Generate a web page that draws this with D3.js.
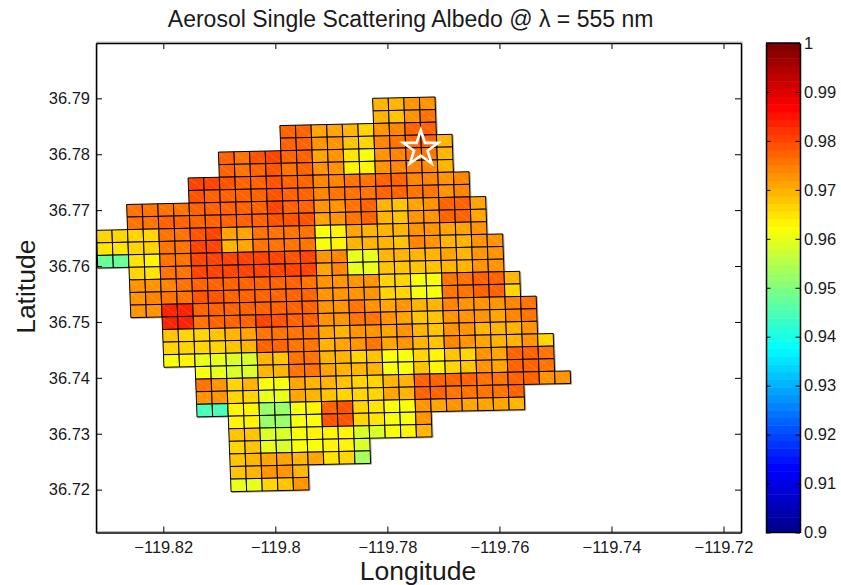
<!DOCTYPE html>
<html>
<head>
<meta charset="utf-8">
<script src="https://cdn.jsdelivr.net/npm/d3@7"></script>
<style>
  body { margin: 0; background: #fff; }
  text { font-family: "Liberation Sans", Arial, sans-serif; fill: #1a1a1a; }
  .axis path, .axis line { stroke: #000; }
  .axis path { stroke-width: 1.5; }
  .axis line { stroke-width: 1; }
  .axis text { font-size: 16.5px; }
</style>
</head>
<body>
<div id="chart"></div>
<script>
// first column of each grid row, top row first
const rowStart = [18, 18, 12, 12, 8, 8, 6, 6, 2, 2, 0, 0, 0, 2, 2, 2, 2, 4, 4, 4, 4, 6, 6, 6, 6, 8, 8, 8, 8, 8, 8];

// single scattering albedo per grid cell
const rowValues = [
  [.970, .970, .972, .973],
  [.969, .968, .972, .975],
  [.977, .977, .971, .971, .969, .966, .973, .974, .977, .977],
  [.977, .977, .973, .973, .968, .967, .974, .975, .977, .977, .970],
  [.977, .975, .979, .980, .977, .977, .971, .973, .965, .962, .972, .974, .975, .975, .969],
  [.977, .975, .978, .979, .976, .977, .972, .973, .964, .964, .972, .974, .974, .974, .969],
  [.980, .980, .979, .978, .978, .979, .977, .977, .974, .974, .976, .976, .977, .977, .974, .974, .973, .974],
  [.979, .978, .978, .977, .978, .979, .977, .977, .974, .975, .975, .976, .977, .977, .975, .975, .972, .974],
  [.975, .975, .976, .976, .978, .978, .977, .977, .978, .980, .977, .978, .972, .973, .976, .977, .969, .968, .971, .972, .977, .978, .971],
  [.975, .975, .977, .977, .977, .977, .977, .977, .978, .979, .979, .979, .971, .973, .975, .977, .970, .968, .972, .973, .977, .978, .971],
  [.967, .967, .967, .966, .975, .976, .979, .980, .971, .971, .975, .975, .975, .975, .962, .963, .971, .970, .969, .969, .972, .972, .971, .971, .973],
  [.965, .965, .967, .966, .976, .976, .980, .980, .970, .971, .975, .975, .975, .975, .962, .964, .970, .969, .969, .968, .974, .972, .970, .969, .972, .973],
  [.948, .948, .965, .963, .976, .976, .980, .980, .981, .981, .981, .980, .979, .980, .972, .974, .960, .960, .970, .970, .970, .970, .971, .970, .973, .973],
  [.966, .965, .976, .976, .980, .980, .981, .980, .980, .980, .980, .981, .971, .974, .960, .960, .968, .968, .968, .968, .970, .970, .973, .973],
  [.972, .973, .974, .975, .977, .977, .977, .977, .977, .977, .977, .976, .973, .973, .972, .972, .967, .966, .962, .962, .975, .975, .977, .977, .969],
  [.973, .974, .976, .976, .979, .979, .977, .977, .977, .977, .977, .977, .973, .973, .973, .973, .967, .966, .962, .962, .975, .975, .977, .977, .967],
  [.972, .972, .983, .983, .977, .977, .977, .977, .977, .978, .978, .978, .972, .972, .975, .973, .971, .972, .969, .970, .974, .973, .972, .972, .974, .975],
  [.983, .983, .976, .977, .978, .977, .980, .979, .977, .977, .972, .973, .975, .975, .972, .971, .968, .968, .973, .973, .972, .971, .974, .975],
  [.968, .966, .967, .968, .970, .971, .976, .975, .975, .975, .971, .970, .972, .972, .971, .972, .970, .968, .973, .972, .970, .970, .969, .972],
  [.966, .966, .967, .967, .968, .970, .977, .977, .975, .975, .970, .971, .973, .975, .971, .973, .969, .968, .974, .973, .971, .970, .970, .973, .966],
  [.962, .964, .960, .960, .959, .959, .969, .968, .975, .976, .970, .970, .967, .968, .961, .962, .966, .964, .968, .967, .972, .971, .977, .977, .976],
  [.961, .960, .959, .959, .970, .970, .975, .975, .971, .970, .969, .969, .961, .961, .968, .964, .966, .968, .972, .971, .977, .977, .975],
  [.975, .973, .967, .969, .961, .962, .971, .970, .970, .968, .967, .967, .970, .970, .977, .977, .977, .977, .975, .975, .977, .978, .973, .972],
  [.973, .973, .966, .967, .960, .960, .971, .969, .968, .967, .966, .967, .971, .970, .977, .977, .976, .976, .975, .975, .977],
  [.944, .944, .963, .963, .952, .952, .961, .963, .978, .979, .966, .965, .961, .961, .972, .971, .972, .971, .971, .971, .970],
  [.963, .964, .952, .953, .962, .962, .979, .979, .966, .965, .961, .961, .972],
  [.968, .968, .959, .959, .961, .963, .963, .964, .959, .959, .961, .963, .969],
  [.967, .968, .960, .959, .961, .961, .963, .964, .959],
  [.968, .969, .971, .971, .970, .971, .965, .966, .954],
  [.968, .970, .972, .972, .970],
  [.960, .960, .967, .968, .973]
];

const lonTicks = [-119.82, -119.8, -119.78, -119.76, -119.74, -119.72];
const latTicks = [36.72, 36.73, 36.74, 36.75, 36.76, 36.77, 36.78, 36.79];
const barTicks = [0.9, 0.91, 0.92, 0.93, 0.94, 0.95, 0.96, 0.97, 0.98, 0.99, 1];
const site = { lon: -119.77404, lat: 36.78102 };

// grid lattice in lon/lat: top-left corner of row 10 col 0, and one step along a column/row
const gridOrigin = { lon: -119.83195, lat: 36.76639 };
const colStep = { lon: 0.002786, lat: 0.0000617 };
const rowStep = { lon: 0.0000839, lat: -0.00225 };

// jet, 64 levels like matlab
const jetStops = ['#00008f', '#0000ff', '#00ffff', '#ffff00', '#ff0000', '#800000'];
const jet = d3.scaleLinear()
  .domain([0, 0.125, 0.375, 0.625, 0.875, 1])
  .range(jetStops);
const jetLevels = d3.range(64).map(i => jet(i / 63));
const colorScale = d3.scaleQuantize().domain([0.9, 1]).range(jetLevels);

const margin = { top: 43, right: 100, bottom: 52.5, left: 96 };
const width = 841 - margin.left - margin.right;
const height = 585 - margin.top - margin.bottom;

const xScale = d3.scaleLinear([-119.83201, -119.71688], [0, width]);
const yScale = d3.scaleLinear([36.71233, 36.7999], [height, 0]);

// lattice corner -> screen
function corner(r, c) {
  const rr = r - 10;
  return [
    xScale(gridOrigin.lon + c * colStep.lon + rr * rowStep.lon),
    yScale(gridOrigin.lat + c * colStep.lat + rr * rowStep.lat)
  ];
}
const cellPoints = d => [corner(d.r, d.c), corner(d.r, d.c + 1), corner(d.r + 1, d.c + 1), corner(d.r + 1, d.c)].join(' ');

const cells = rowValues.flatMap((vals, r) =>
  vals.map((v, i) => ({ r, c: rowStart[r] + i, v })));

const svg = d3.select('#chart').append('svg')
  .attr('width', 841)
  .attr('height', 585);

const plot = svg.append('g')
  .attr('transform', `translate(${margin.left},${margin.top})`);

plot.append('clipPath').attr('id', 'plot-clip')
  .append('rect').attr('width', width).attr('height', height);

// grey ghost of the box, up and to the right
plot.append('rect')
  .attr('x', 1).attr('y', -1)
  .attr('width', width).attr('height', height)
  .style('fill', 'none').style('stroke', '#bbb').style('stroke-width', 1);

const grid = plot.append('g').attr('clip-path', 'url(#plot-clip)');

// same ghost under the cells
grid.selectAll('.ghost')
  .data(cells)
  .join('polygon')
  .attr('class', 'ghost')
  .attr('transform', 'translate(1,0.8)')
  .attr('points', cellPoints)
  .style('fill', 'none')
  .style('stroke', '#aaa')
  .style('stroke-width', 1);

grid.selectAll('.cell')
  .data(cells)
  .join('polygon')
  .attr('class', 'cell')
  .attr('points', cellPoints)
  .style('fill', d => colorScale(d.v))
  .style('stroke', '#000')
  .style('stroke-width', 1);

// the faint pale seam across every cell
grid.selectAll('.seam')
  .data(cells)
  .join('line')
  .attr('class', 'seam')
  .attr('x1', d => corner(d.r, d.c)[0] + 1)
  .attr('y1', d => corner(d.r, d.c)[1] + 1)
  .attr('x2', d => corner(d.r + 1, d.c + 1)[0] - 1)
  .attr('y2', d => corner(d.r + 1, d.c + 1)[1] - 1)
  .style('stroke', '#fff')
  .style('stroke-opacity', 0.22)
  .style('stroke-width', 0.7);

// site marker
plot.append('path')
  .attr('d', d3.symbol(d3.symbolStar, 382)())
  .attr('transform', `translate(${xScale(site.lon)},${yScale(site.lat)})`)
  .style('fill', 'none')
  .style('stroke', '#fff')
  .style('stroke-width', 2.6);

// axes, ticks point inward on all four sides
const formatLon = d => d3.format('.6~f')(d).replace('-', '\u2013');

plot.append('g').attr('class', 'x axis')
  .attr('transform', `translate(0,${height})`)
  .call(d3.axisBottom(xScale).tickValues(lonTicks).tickFormat(formatLon).tickSizeInner(-6).tickSizeOuter(0).tickPadding(9));
plot.append('g').attr('class', 'x axis')
  .call(d3.axisTop(xScale).tickValues(lonTicks).tickFormat('').tickSizeInner(-6).tickSizeOuter(0));
plot.append('g').attr('class', 'y axis')
  .call(d3.axisLeft(yScale).tickValues(latTicks).tickFormat(d3.format('.2f')).tickSizeInner(-6).tickSizeOuter(0).tickPadding(6));
plot.append('g').attr('class', 'y axis')
  .attr('transform', `translate(${width},0)`)
  .call(d3.axisRight(yScale).tickValues(latTicks).tickFormat('').tickSizeInner(-6).tickSizeOuter(0));

// colour bar
const barX = 766 - margin.left;
const barWidth = 34;
const barBand = d3.scaleBand().domain(d3.range(64)).range([height, 0]);
const barScale = d3.scaleLinear([0.9, 1], [height, 0]);

const bar = plot.append('g').attr('transform', `translate(${barX},0)`);

bar.selectAll('rect')
  .data(d3.range(64))
  .join('rect')
  .attr('y', d => barBand(d))
  .attr('width', barWidth)
  .attr('height', barBand.bandwidth() + 0.5)
  .style('fill', d => jetLevels[d]);

bar.append('g').attr('class', 'y axis')
  .call(d3.axisLeft(barScale).tickValues(barTicks).tickFormat('').tickSizeInner(-4.5).tickSizeOuter(0));
bar.append('g').attr('class', 'y axis')
  .attr('transform', `translate(${barWidth},0)`)
  .call(d3.axisRight(barScale).tickValues(barTicks).tickFormat(d3.format('~g')).tickSizeInner(-4.5).tickSizeOuter(0).tickPadding(4));
bar.append('path')
  .attr('d', d3.line()([[0, 0], [barWidth, 0]]))
  .style('stroke', '#000').style('stroke-width', 1.5);
bar.append('path')
  .attr('d', d3.line()([[0, height], [barWidth, height]]))
  .style('stroke', '#000').style('stroke-width', 1.5);

// titles
svg.append('text')
  .attr('x', 410.6).attr('y', 27)
  .attr('text-anchor', 'middle')
  .style('font-size', '23px')
  .text('Aerosol Single Scattering Albedo @ \u03bb = 555 nm');

svg.append('text')
  .attr('x', 418).attr('y', 580)
  .attr('text-anchor', 'middle')
  .style('font-size', '26.5px')
  .text('Longitude');

svg.append('text')
  .attr('transform', 'translate(35,286.7) rotate(-90)')
  .attr('text-anchor', 'middle')
  .style('font-size', '26.5px')
  .text('Latitude');
</script>
</body>
</html>
